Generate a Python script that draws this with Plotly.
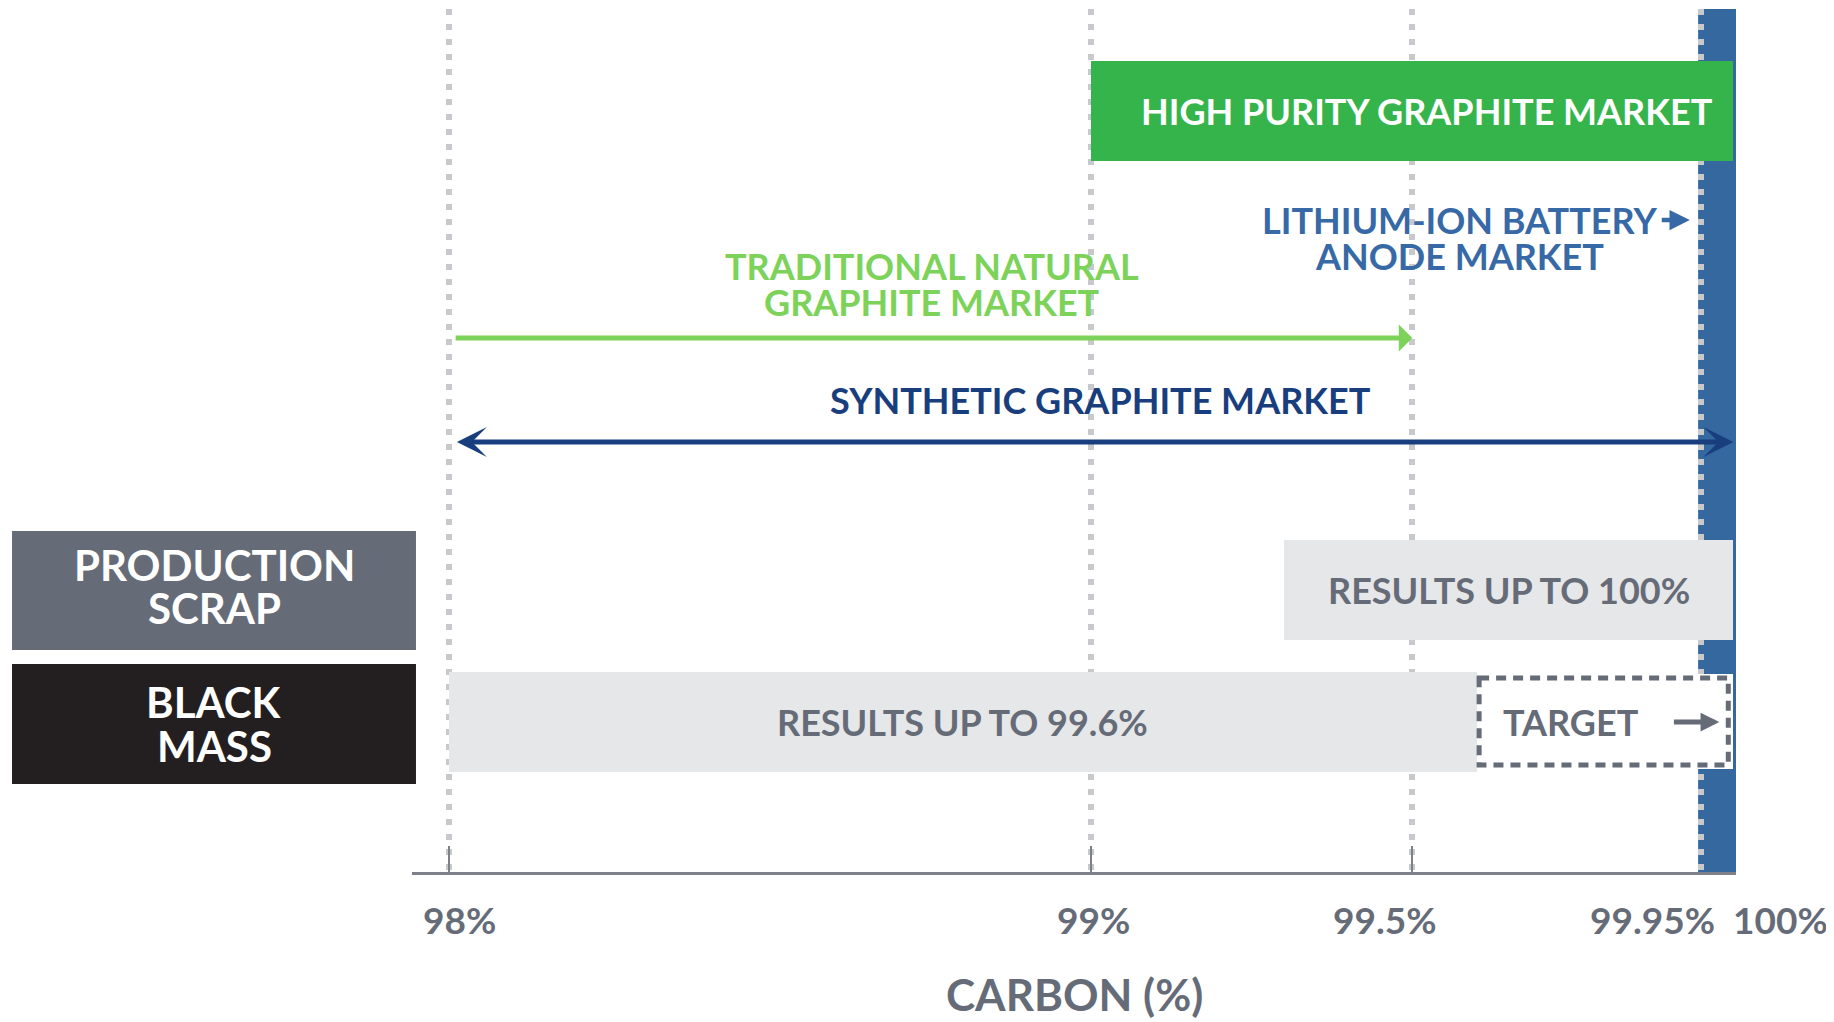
import plotly.graph_objects as go

# -----------------------------------------------------------------------------
# Data - carbon purity ranges (%)
# -----------------------------------------------------------------------------
TICK_VALUES = [98, 99, 99.5, 99.95, 100]
TICK_LABELS = ["98%", "99%", "99.5%", "99.95%", "100%"]

HIGH_PURITY = [99.0, 100.0]
ANODE_BAND = [99.945, 100.004]
TRADITIONAL = [98.0, 99.5]
SYNTHETIC = [98.0, 100.0]
SCRAP_RESULT = [99.3, 100.0]
BLACK_MASS_RESULT = [98.0, 99.6]
TARGET = [99.6, 100.0]

FEEDSTOCKS = ["PRODUCTION<br>SCRAP", "BLACK<br>MASS"]
RESULT_LABELS = ["RESULTS UP TO 100%", "RESULTS UP TO 99.6%"]

# -----------------------------------------------------------------------------
# Style
# -----------------------------------------------------------------------------
FONT = "Lato"
GREEN = "#35b44b"
LIGHT_GREEN = "#7dd35a"
BLUE = "#34689f"
LI_BLUE = "#3769a6"
NAVY = "#193e7e"
SLATE = "#666b78"
BLACK = "#231f20"
LIGHT = "#e6e7e8"
DOTS = "#c8c9cd"
AXIS = "#7d808b"

Y_MAX = 8.63          # y axis runs top (0) to bottom (Y_MAX)
X_RANGE = [97.9424, 100.004]

# row centres in y units
ROW_HIGH = 1.015
ROW_LI = [2.11, 2.47]
ROW_TRAD = [2.57, 2.93]
ROW_TRAD_ARROW = 3.29
ROW_SYN = 3.91
ROW_SYN_ARROW = 4.33
ROW_SCRAP = 5.81
ROW_BLACK = 7.13
BAR_W = 1.0


def py(y):
    """y axis value -> paper fraction (axis reversed)."""
    return 1 - y / Y_MAX


fig = go.Figure()

# horizontal bars
bars = [
    (HIGH_PURITY, ROW_HIGH, GREEN),
    (SCRAP_RESULT, ROW_SCRAP, LIGHT),
    (BLACK_MASS_RESULT, ROW_BLACK, LIGHT),
    (TARGET, ROW_BLACK - 0.01, "white"),
]
for (lo, hi), row, color in bars:
    fig.add_trace(go.Bar(
        x=[hi - lo], base=[lo], y=[row], orientation="h",
        width=[BAR_W if color != "white" else 0.95],
        marker=dict(color=color, line=dict(width=0)),
        hoverinfo="skip", showlegend=False,
    ))

shapes = [
    # anode market band, under the dotted grid
    dict(type="rect", xref="x", yref="y", x0=ANODE_BAND[0], x1=ANODE_BAND[1],
         y0=0, y1=Y_MAX, fillcolor=BLUE, line=dict(width=0), layer="below"),
    # dashed target outline
    dict(type="rect", xref="x", yref="y", x0=TARGET[0] + 0.004, x1=TARGET[1] - 0.008,
         y0=ROW_BLACK - 0.44, y1=ROW_BLACK + 0.43,
         line=dict(color=SLATE, width=5, dash="10px,7px"), layer="above"),
]

# feedstock label boxes on the left
for label, (y0, y1), color in zip(FEEDSTOCKS, [(5.22, 6.41), (6.55, 7.75)], [SLATE, BLACK]):
    shapes.append(dict(type="rect", xref="paper", yref="paper", x0=-0.3021, x1=0.003,
                       y0=py(y1), y1=py(y0), fillcolor=color, line=dict(width=0)))

annotations = []


def text(x, y, s, color, size, xref="x", yref="y", **kw):
    annotations.append(dict(
        x=x, y=y, xref=xref, yref=yref, text=s, showarrow=False,
        xanchor="center", yanchor="middle",
        font=dict(family=FONT, size=size, color=color, weight="bold"), **kw))


def arrow(x0, x1, y, color, width, head, size, side="end"):
    annotations.append(dict(
        x=x1, y=y, ax=x0, ay=y, xref="x", yref="y", axref="x", ayref="y",
        text="", showarrow=True, arrowhead=head, startarrowhead=head,
        arrowsize=size, startarrowsize=size, arrowwidth=width,
        arrowcolor=color, arrowside=side, standoff=0, startstandoff=0))


text(99.523, ROW_HIGH, "HIGH PURITY GRAPHITE MARKET", "white", 36)

text(99.573, ROW_LI[0], "LITHIUM-ION BATTERY", LI_BLUE, 36)
text(99.573, ROW_LI[1], "ANODE MARKET", LI_BLUE, 36)
arrow(99.886, 99.932, ROW_LI[0], LI_BLUE, 4.5, 2, 0.9)

text(98.752, ROW_TRAD[0], "TRADITIONAL NATURAL", LIGHT_GREEN, 36)
text(98.752, ROW_TRAD[1], "GRAPHITE MARKET", LIGHT_GREEN, 36)
arrow(TRADITIONAL[0] + 0.008, TRADITIONAL[1], ROW_TRAD_ARROW, LIGHT_GREEN, 5, 1, 0.9)

text(99.015, ROW_SYN, "SYNTHETIC GRAPHITE MARKET", NAVY, 36)
arrow(SYNTHETIC[0] + 0.01, SYNTHETIC[1], ROW_SYN_ARROW, NAVY, 5, 3, 1.0, "end+start")

text(sum(SCRAP_RESULT) / 2, ROW_SCRAP, RESULT_LABELS[0], SLATE, 36)
text(sum(BLACK_MASS_RESULT) / 2, ROW_BLACK, RESULT_LABELS[1], SLATE, 36)
text(99.747, ROW_BLACK, "TARGET", SLATE, 36)
arrow(99.905, 99.978, ROW_BLACK, SLATE, 5, 2, 0.75)

# feedstock box labels, one annotation per line
for label, (l1, l2) in zip(FEEDSTOCKS, [(5.56, 5.99), (6.93, 7.37)]):
    first, second = label.split("<br>")
    text(-0.1495, py(l1), first, "white", 42, xref="paper", yref="paper")
    text(-0.1495, py(l2), second, "white", 42, xref="paper", yref="paper")

# tick labels (nudged apart where crowded)
for val, lab, shift in zip(TICK_VALUES, TICK_LABELS, [11, 2, -27, -49, 47]):
    text(val, 0, lab, SLATE, 37, yref="paper", yshift=-47, xshift=shift)

text(0.5, 0, "CARBON (%)", SLATE, 44, xref="paper", yref="paper", yshift=-122)

# page body has an 8px margin, so the figure is 8px smaller each way
fig.update_layout(
    width=1826, height=1014,
    margin=dict(l=404, r=98, t=1, b=150),
    paper_bgcolor="white", plot_bgcolor="rgba(0,0,0,0)",
    barmode="overlay", bargap=0,
    shapes=shapes, annotations=annotations,
    xaxis=dict(
        range=X_RANGE, tickvals=TICK_VALUES[:3], showticklabels=False,
        ticks="inside", ticklen=26, tickwidth=2, tickcolor=AXIS,
        showline=True, linecolor=AXIS, linewidth=3,
        showgrid=True, gridcolor=DOTS, gridwidth=6, griddash="6px,9px",
        minor=dict(tickvals=[TICK_VALUES[3]], showgrid=True, gridcolor=DOTS,
                   gridwidth=6, griddash="6px,9px", ticks=""),
        zeroline=False, fixedrange=True,
    ),
    yaxis=dict(range=[Y_MAX, 0], visible=False, fixedrange=True),
)

fig.write_html("out.html")
